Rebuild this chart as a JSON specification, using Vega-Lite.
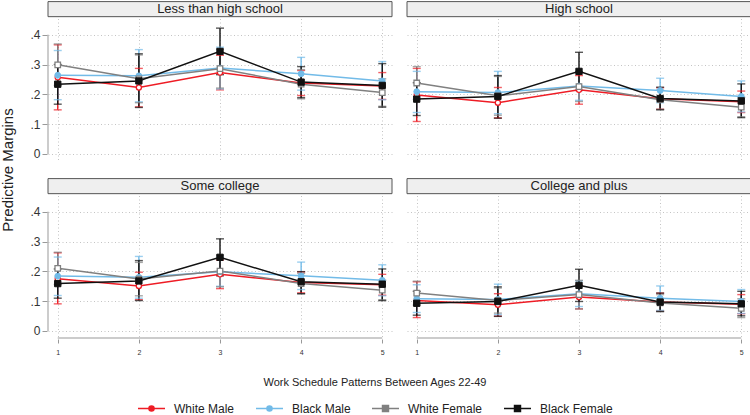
{
  "$schema": "https://vega.github.io/schema/vega-lite/v6.json",
  "padding": {"left": 0, "top": 1, "right": 2, "bottom": 2},
  "config": {
    "view": {"stroke": null},
    "font": "Liberation Sans",
    "axis": {"domain": false, "tickColor": "#999999", "tickSize": 5, "labelColor": "#333333", "gridColor": "#c4c4c4", "gridDash": [1, 2.5], "gridWidth": 1, "title": null, "labelOverlap": false}
  },
  "data": {"values": [
    {"edu": "Less than high school", "x": 1, "series": "White Male", "m": 0.257, "lo": 0.148, "hi": 0.366},
    {"edu": "Less than high school", "x": 2, "series": "White Male", "m": 0.223, "lo": 0.158, "hi": 0.287},
    {"edu": "Less than high school", "x": 3, "series": "White Male", "m": 0.273, "lo": 0.215, "hi": 0.331},
    {"edu": "Less than high school", "x": 4, "series": "White Male", "m": 0.238, "lo": 0.196, "hi": 0.280},
    {"edu": "Less than high school", "x": 5, "series": "White Male", "m": 0.228, "lo": 0.183, "hi": 0.273},
    {"edu": "Less than high school", "x": 1, "series": "Black Male", "m": 0.264, "lo": 0.182, "hi": 0.347},
    {"edu": "Less than high school", "x": 2, "series": "Black Male", "m": 0.262, "lo": 0.175, "hi": 0.350},
    {"edu": "Less than high school", "x": 3, "series": "Black Male", "m": 0.288, "lo": 0.218, "hi": 0.358},
    {"edu": "Less than high school", "x": 4, "series": "Black Male", "m": 0.269, "lo": 0.214, "hi": 0.324},
    {"edu": "Less than high school", "x": 5, "series": "Black Male", "m": 0.245, "lo": 0.182, "hi": 0.310},
    {"edu": "Less than high school", "x": 1, "series": "White Female", "m": 0.299, "lo": 0.230, "hi": 0.369},
    {"edu": "Less than high school", "x": 2, "series": "White Female", "m": 0.252, "lo": 0.172, "hi": 0.332},
    {"edu": "Less than high school", "x": 3, "series": "White Female", "m": 0.286, "lo": 0.221, "hi": 0.351},
    {"edu": "Less than high school", "x": 4, "series": "White Female", "m": 0.234, "lo": 0.185, "hi": 0.283},
    {"edu": "Less than high school", "x": 5, "series": "White Female", "m": 0.206, "lo": 0.160, "hi": 0.252},
    {"edu": "Less than high school", "x": 1, "series": "Black Female", "m": 0.234, "lo": 0.167, "hi": 0.300},
    {"edu": "Less than high school", "x": 2, "series": "Black Female", "m": 0.245, "lo": 0.156, "hi": 0.336},
    {"edu": "Less than high school", "x": 3, "series": "Black Female", "m": 0.344, "lo": 0.266, "hi": 0.422},
    {"edu": "Less than high school", "x": 4, "series": "Black Female", "m": 0.241, "lo": 0.189, "hi": 0.293},
    {"edu": "Less than high school", "x": 5, "series": "Black Female", "m": 0.230, "lo": 0.157, "hi": 0.303},

    {"edu": "High school", "x": 1, "series": "White Male", "m": 0.198, "lo": 0.109, "hi": 0.287},
    {"edu": "High school", "x": 2, "series": "White Male", "m": 0.172, "lo": 0.121, "hi": 0.223},
    {"edu": "High school", "x": 3, "series": "White Male", "m": 0.215, "lo": 0.167, "hi": 0.263},
    {"edu": "High school", "x": 4, "series": "White Male", "m": 0.185, "lo": 0.150, "hi": 0.222},
    {"edu": "High school", "x": 5, "series": "White Male", "m": 0.175, "lo": 0.139, "hi": 0.211},
    {"edu": "High school", "x": 1, "series": "Black Male", "m": 0.209, "lo": 0.139, "hi": 0.277},
    {"edu": "High school", "x": 2, "series": "Black Male", "m": 0.206, "lo": 0.135, "hi": 0.277},
    {"edu": "High school", "x": 3, "series": "Black Male", "m": 0.228, "lo": 0.180, "hi": 0.276},
    {"edu": "High school", "x": 4, "series": "Black Male", "m": 0.213, "lo": 0.172, "hi": 0.254},
    {"edu": "High school", "x": 5, "series": "Black Male", "m": 0.193, "lo": 0.141, "hi": 0.245},
    {"edu": "High school", "x": 1, "series": "White Female", "m": 0.238, "lo": 0.183, "hi": 0.293},
    {"edu": "High school", "x": 2, "series": "White Female", "m": 0.195, "lo": 0.130, "hi": 0.260},
    {"edu": "High school", "x": 3, "series": "White Female", "m": 0.226, "lo": 0.176, "hi": 0.276},
    {"edu": "High school", "x": 4, "series": "White Female", "m": 0.182, "lo": 0.150, "hi": 0.214},
    {"edu": "High school", "x": 5, "series": "White Female", "m": 0.157, "lo": 0.125, "hi": 0.190},
    {"edu": "High school", "x": 1, "series": "Black Female", "m": 0.184, "lo": 0.129, "hi": 0.239},
    {"edu": "High school", "x": 2, "series": "Black Female", "m": 0.193, "lo": 0.120, "hi": 0.263},
    {"edu": "High school", "x": 3, "series": "Black Female", "m": 0.277, "lo": 0.213, "hi": 0.341},
    {"edu": "High school", "x": 4, "series": "Black Female", "m": 0.186, "lo": 0.148, "hi": 0.224},
    {"edu": "High school", "x": 5, "series": "Black Female", "m": 0.178, "lo": 0.122, "hi": 0.235},

    {"edu": "Some college", "x": 1, "series": "White Male", "m": 0.175, "lo": 0.091, "hi": 0.262},
    {"edu": "Some college", "x": 2, "series": "White Male", "m": 0.151, "lo": 0.105, "hi": 0.197},
    {"edu": "Some college", "x": 3, "series": "White Male", "m": 0.190, "lo": 0.142, "hi": 0.238},
    {"edu": "Some college", "x": 4, "series": "White Male", "m": 0.163, "lo": 0.128, "hi": 0.198},
    {"edu": "Some college", "x": 5, "series": "White Male", "m": 0.155, "lo": 0.120, "hi": 0.190},
    {"edu": "Some college", "x": 1, "series": "Black Male", "m": 0.184, "lo": 0.119, "hi": 0.248},
    {"edu": "Some college", "x": 2, "series": "Black Male", "m": 0.180, "lo": 0.110, "hi": 0.250},
    {"edu": "Some college", "x": 3, "series": "Black Male", "m": 0.199, "lo": 0.150, "hi": 0.248},
    {"edu": "Some college", "x": 4, "series": "Black Male", "m": 0.185, "lo": 0.139, "hi": 0.231},
    {"edu": "Some college", "x": 5, "series": "Black Male", "m": 0.170, "lo": 0.118, "hi": 0.222},
    {"edu": "Some college", "x": 1, "series": "White Female", "m": 0.210, "lo": 0.156, "hi": 0.264},
    {"edu": "Some college", "x": 2, "series": "White Female", "m": 0.174, "lo": 0.118, "hi": 0.230},
    {"edu": "Some college", "x": 3, "series": "White Female", "m": 0.201, "lo": 0.148, "hi": 0.254},
    {"edu": "Some college", "x": 4, "series": "White Female", "m": 0.159, "lo": 0.125, "hi": 0.193},
    {"edu": "Some college", "x": 5, "series": "White Female", "m": 0.137, "lo": 0.105, "hi": 0.170},
    {"edu": "Some college", "x": 1, "series": "Black Female", "m": 0.159, "lo": 0.110, "hi": 0.208},
    {"edu": "Some college", "x": 2, "series": "Black Female", "m": 0.168, "lo": 0.102, "hi": 0.236},
    {"edu": "Some college", "x": 3, "series": "Black Female", "m": 0.247, "lo": 0.185, "hi": 0.309},
    {"edu": "Some college", "x": 4, "series": "Black Female", "m": 0.165, "lo": 0.125, "hi": 0.199},
    {"edu": "Some college", "x": 5, "series": "Black Female", "m": 0.157, "lo": 0.102, "hi": 0.208},

    {"edu": "College and plus", "x": 1, "series": "White Male", "m": 0.102, "lo": 0.045, "hi": 0.165},
    {"edu": "College and plus", "x": 2, "series": "White Male", "m": 0.088, "lo": 0.050, "hi": 0.125},
    {"edu": "College and plus", "x": 3, "series": "White Male", "m": 0.114, "lo": 0.074, "hi": 0.154},
    {"edu": "College and plus", "x": 4, "series": "White Male", "m": 0.097, "lo": 0.067, "hi": 0.127},
    {"edu": "College and plus", "x": 5, "series": "White Male", "m": 0.090, "lo": 0.058, "hi": 0.122},
    {"edu": "College and plus", "x": 1, "series": "Black Male", "m": 0.108, "lo": 0.062, "hi": 0.155},
    {"edu": "College and plus", "x": 2, "series": "Black Male", "m": 0.106, "lo": 0.055, "hi": 0.157},
    {"edu": "College and plus", "x": 3, "series": "Black Male", "m": 0.125, "lo": 0.082, "hi": 0.168},
    {"edu": "College and plus", "x": 4, "series": "Black Male", "m": 0.110, "lo": 0.069, "hi": 0.151},
    {"edu": "College and plus", "x": 5, "series": "Black Male", "m": 0.099, "lo": 0.059, "hi": 0.139},
    {"edu": "College and plus", "x": 1, "series": "White Female", "m": 0.127, "lo": 0.087, "hi": 0.167},
    {"edu": "College and plus", "x": 2, "series": "White Female", "m": 0.102, "lo": 0.060, "hi": 0.144},
    {"edu": "College and plus", "x": 3, "series": "White Female", "m": 0.122, "lo": 0.074, "hi": 0.170},
    {"edu": "College and plus", "x": 4, "series": "White Female", "m": 0.094, "lo": 0.066, "hi": 0.122},
    {"edu": "College and plus", "x": 5, "series": "White Female", "m": 0.076, "lo": 0.045, "hi": 0.108},
    {"edu": "College and plus", "x": 1, "series": "Black Female", "m": 0.093, "lo": 0.053, "hi": 0.133},
    {"edu": "College and plus", "x": 2, "series": "Black Female", "m": 0.099, "lo": 0.049, "hi": 0.148},
    {"edu": "College and plus", "x": 3, "series": "Black Female", "m": 0.153, "lo": 0.099, "hi": 0.207},
    {"edu": "College and plus", "x": 4, "series": "Black Female", "m": 0.097, "lo": 0.065, "hi": 0.127},
    {"edu": "College and plus", "x": 5, "series": "Black Female", "m": 0.091, "lo": 0.051, "hi": 0.133}
  ]},
  "transform": [
    {"calculate": "indexof(['Less than high school','High school','Some college','College and plus'], datum.edu)", "as": "pi"},
    {"calculate": "datum.pi < 2 ? 'r1' : 'r2'", "as": "prow"},
    {"calculate": "datum.pi % 2 == 0 ? 'c1' : 'c2'", "as": "pcol"}
  ],
  "facet": {
    "row": {"field": "prow", "type": "nominal", "header": {"labels": false, "title": "Predictive Margins", "titleOrient": "left", "titleFontSize": 15, "titleFontWeight": "normal", "titleColor": "#222222", "titlePadding": 3}},
    "column": {"field": "pcol", "type": "nominal", "header": {"labels": false, "title": null}}
  },
  "spacing": {"row": 16, "column": 13},
  "spec": {
    "width": 344,
    "height": 160,
    "layer": [
      {
        "transform": [{"aggregate": [{"op": "count", "as": "n"}], "groupby": ["edu"]}],
        "mark": {"type": "rect", "fill": "#efefef", "stroke": "#555555", "strokeWidth": 1},
        "encoding": {
          "x": {"datum": 0.88, "type": "quantitative"},
          "x2": {"datum": 5.12},
          "y": {"datum": 0.4605, "type": "quantitative"},
          "y2": {"datum": 0.511}
        }
      },
      {
        "transform": [{"aggregate": [{"op": "count", "as": "n"}], "groupby": ["edu"]}],
        "mark": {"type": "text", "fontSize": 13, "color": "#222222", "baseline": "middle", "align": "center"},
        "encoding": {
          "x": {"datum": 3, "type": "quantitative"},
          "y": {"datum": 0.486, "type": "quantitative"},
          "text": {"field": "edu", "type": "nominal"}
        }
      },
      {
        "transform": [{"filter": "datum.pcol == 'c1'"}, {"aggregate": [{"op": "count", "as": "n"}], "groupby": ["edu"]}],
        "mark": {"type": "rule", "color": "#999999", "strokeWidth": 1},
        "encoding": {
          "x": {"datum": 0.88, "type": "quantitative"},
          "y": {"datum": 0, "type": "quantitative"},
          "y2": {"datum": 0.4}
        }
      },
      {
        "transform": [{"filter": "datum.prow == 'r2'"}, {"aggregate": [{"op": "count", "as": "n"}], "groupby": ["edu"]}],
        "mark": {"type": "rule", "color": "#999999", "strokeWidth": 1},
        "encoding": {
          "x": {"datum": 1, "type": "quantitative"},
          "x2": {"datum": 5},
          "y": {"datum": -0.0235, "type": "quantitative"}
        }
      },
      {
        "mark": {"type": "rule", "strokeWidth": 1.4},
        "encoding": {
          "x": {"field": "x", "type": "quantitative", "scale": {"domain": [0.88, 5.12], "nice": false, "zero": false}, "axis": {"values": [1, 2, 3, 4, 5], "format": "d", "labelFontSize": 7, "grid": true, "tickSize": 4, "labelPadding": 5, "labelOverlap": false}},
          "y": {"field": "lo", "type": "quantitative", "scale": {"domain": [-0.0235, 0.513], "nice": false, "zero": false}, "axis": {
            "values": [0, 0.1, 0.2, 0.3, 0.4], "tickCount": 5,
            "labelExpr": "datum.value > 0.45 ? '' : datum.value < 0.05 ? '0' : '.' + format(round(datum.value * 10), 'd')",
            "tickColor": {"condition": {"test": "datum.value > 0.45", "value": "transparent"}, "value": "#999999"},
            "labelFontSize": 12, "grid": true, "labelPadding": 2, "tickSize": 5, "labelOverlap": false, "labelBound": false, "labelFlush": false, "labelSeparation": 0}},
          "y2": {"field": "hi"},
          "color": {"field": "series", "type": "nominal", "scale": {"domain": ["White Male", "Black Male", "White Female", "Black Female"], "range": ["#ee1c25", "#72bbe8", "#808080", "#111111"]}}
        }
      },
      {
        "mark": {"type": "tick", "orient": "horizontal", "size": 8, "thickness": 1.4},
        "encoding": {
          "x": {"field": "x", "type": "quantitative"},
          "y": {"field": "lo", "type": "quantitative"},
          "color": {"field": "series", "type": "nominal"}
        }
      },
      {
        "mark": {"type": "tick", "orient": "horizontal", "size": 8, "thickness": 1.4},
        "encoding": {
          "x": {"field": "x", "type": "quantitative"},
          "y": {"field": "hi", "type": "quantitative"},
          "color": {"field": "series", "type": "nominal"}
        }
      },
      {
        "mark": {"type": "line", "strokeWidth": 1.5},
        "encoding": {
          "x": {"field": "x", "type": "quantitative"},
          "y": {"field": "m", "type": "quantitative"},
          "color": {"field": "series", "type": "nominal", "legend": {
            "orient": "none", "legendX": 89, "legendY": 376, "direction": "horizontal",
            "title": "Work Schedule Patterns Between Ages 22-49", "titleOrient": "top", "titleAnchor": "middle", "titleLimit": 500,
            "titleFontSize": 11, "titleFontWeight": "normal", "titleColor": "#222222", "titlePadding": 6,
            "labelFontSize": 12, "labelColor": "#222222", "labelOffset": 8, "columnPadding": 18, "gridAlign": "none",
            "symbolSize": 729, "symbolStrokeWidth": 1.5,
            "encode": {"symbols": {"update": {
              "shape": {"signal": "datum.value == 'White Male' || datum.value == 'Black Male' ? 'M-1,0H-0.19M0.19,0H1M-0.19,0A0.19,0.19,0,1,0,0.19,0A0.19,0.19,0,1,0,-0.19,0' : 'M-1,0H-0.22M0.22,0H1M-0.22,-0.22H0.22V0.22H-0.22Z'"},
              "fill": {"signal": "datum.value == 'Black Male' ? '#72bbe8' : datum.value == 'Black Female' ? '#111111' : '#ffffff'"},
              "fillOpacity": {"value": 1}
            }}}
          }}
        }
      },
      {
        "transform": [{"filter": "datum.series == 'White Male'"}],
        "mark": {"type": "point", "shape": "circle", "size": 26, "strokeWidth": 1.3, "stroke": "#ee1c25", "fill": "#ffffff", "opacity": 1, "fillOpacity": 1},
        "encoding": {"x": {"field": "x", "type": "quantitative"}, "y": {"field": "m", "type": "quantitative"}}
      },
      {
        "transform": [{"filter": "datum.series == 'Black Male'"}],
        "mark": {"type": "point", "shape": "circle", "size": 34, "strokeWidth": 1, "stroke": "#72bbe8", "fill": "#72bbe8", "opacity": 1, "fillOpacity": 1},
        "encoding": {"x": {"field": "x", "type": "quantitative"}, "y": {"field": "m", "type": "quantitative"}}
      },
      {
        "transform": [{"filter": "datum.series == 'White Female'"}],
        "mark": {"type": "point", "shape": "square", "size": 30, "strokeWidth": 1.3, "stroke": "#808080", "fill": "#ffffff", "opacity": 1, "fillOpacity": 1},
        "encoding": {"x": {"field": "x", "type": "quantitative"}, "y": {"field": "m", "type": "quantitative"}}
      },
      {
        "transform": [{"filter": "datum.series == 'Black Female'"}],
        "mark": {"type": "point", "shape": "square", "size": 40, "strokeWidth": 1, "stroke": "#111111", "fill": "#111111", "opacity": 1, "fillOpacity": 1},
        "encoding": {"x": {"field": "x", "type": "quantitative"}, "y": {"field": "m", "type": "quantitative"}}
      }
    ]
  }
}
